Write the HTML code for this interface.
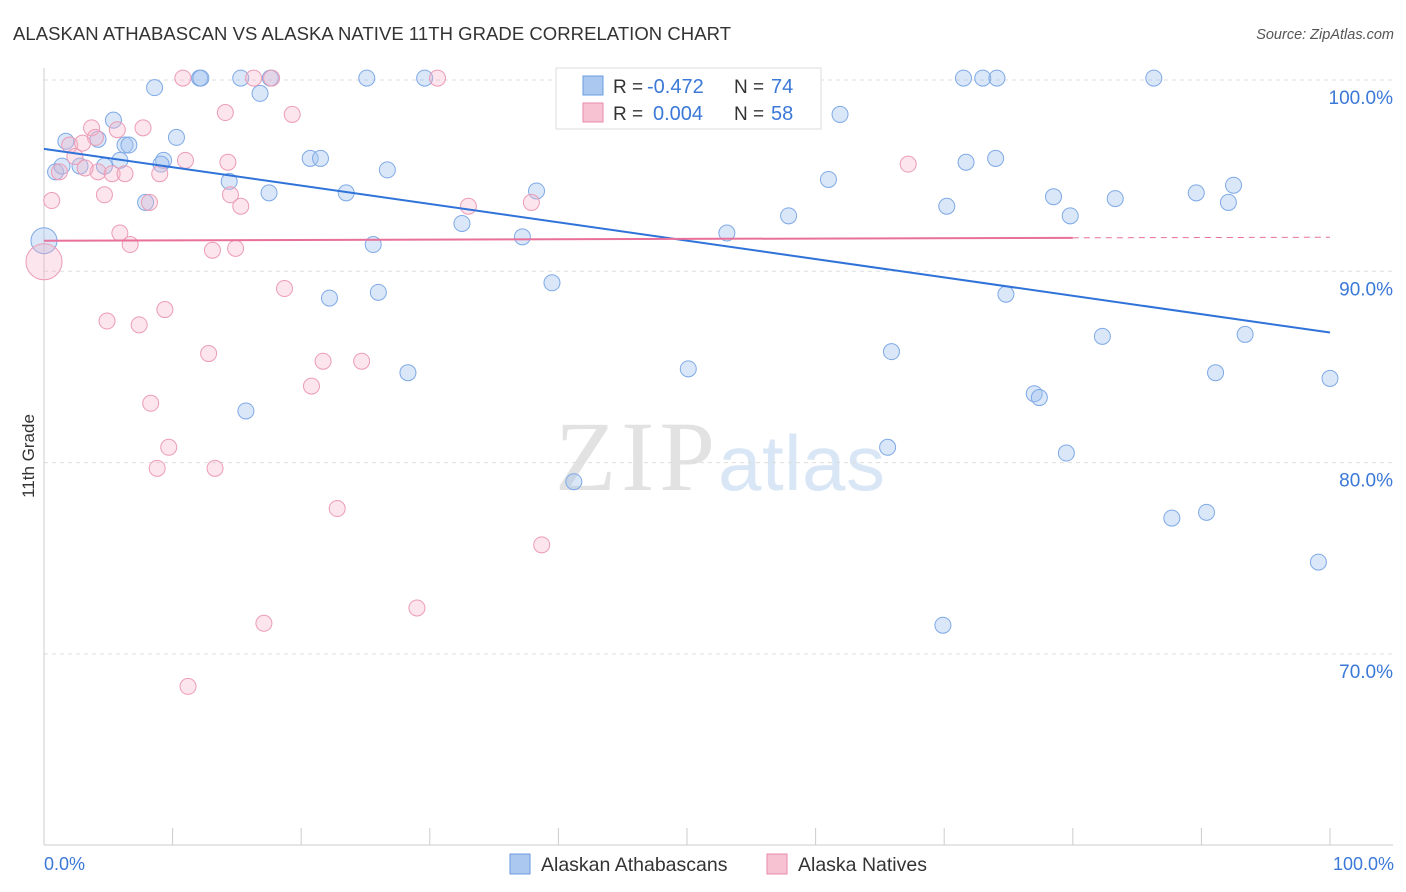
<!DOCTYPE html>
<html><head><meta charset="utf-8"><style>
body{margin:0;background:#fff;font-family:"Liberation Sans",sans-serif}
svg{display:block}
</style></head><body>
<svg id="chart" width="1406" height="892">
<text x="13" y="40" font-size="18.5" fill="#333" textLength="718">ALASKAN ATHABASCAN VS ALASKA NATIVE 11TH GRADE CORRELATION CHART</text>
<text x="1394" y="39" font-size="14.5" fill="#555" font-style="italic" text-anchor="end">Source: ZipAtlas.com</text>
<text x="555" y="490" font-size="100" fill="#e2e2e2" textLength="160" font-family="Liberation Serif,serif">ZIP</text>
<text x="718" y="490" font-size="78" fill="#d9e6f6" textLength="167">atlas</text>
<g id="grid"></g><g id="axes"></g><g id="marks"></g>
<text transform="translate(34,456) rotate(-90)" font-size="17" fill="#333" text-anchor="middle">11th Grade</text>
<text x="44" y="870" font-size="18" fill="#3b78d8">0.0%</text>
<text x="1394" y="870" font-size="18" fill="#3b78d8" text-anchor="end">100.0%</text>
<g>
<rect x="556" y="68" width="265" height="61" fill="#fff" stroke="#ddd"/>
<rect x="583" y="76" width="20" height="19" fill="#aac8f0" stroke="#6a9de0"/>
<rect x="583" y="103" width="20" height="19" fill="#f7c3d3" stroke="#e88aa8"/>
<text x="613" y="93" font-size="19" fill="#333">R =</text>
<text x="647" y="93" font-size="20" fill="#3b78d8">-0.472</text>
<text x="734" y="93" font-size="19" fill="#333">N =</text>
<text x="771" y="93" font-size="20" fill="#3b78d8">74</text>
<text x="613" y="120" font-size="19" fill="#333">R =</text>
<text x="653" y="120" font-size="20" fill="#3b78d8">0.004</text>
<text x="734" y="120" font-size="19" fill="#333">N =</text>
<text x="771" y="120" font-size="20" fill="#3b78d8">58</text>
</g>
<g>
<rect x="510" y="854" width="20" height="20" fill="#aac8f0" stroke="#6a9de0"/>
<text x="541" y="871" font-size="19.5" fill="#333">Alaskan Athabascans</text>
<rect x="767" y="854" width="20" height="20" fill="#f7c3d3" stroke="#e88aa8"/>
<text x="798" y="871" font-size="19.5" fill="#333">Alaska Natives</text>
</g>
</svg>
<script>
const yTicks=[100,90,80,70];
const xTicks=[0,10,20,30,40,50,60,70,80,90,100];
const bluePx=[[155,87],[200,79],[201,79],[241,79],[270,79],[367,79],[425,79],[963,79],[983,79],[997,79],[1154,79],[260,93],[113,121],[177,137],[66,141],[98,139],[125,145],[129,145],[840,114],[163,160],[120,160],[310,159],[321,158],[55,171],[62,167],[80,167],[104,167],[161,165],[388,169],[966,162],[995,158],[229,181],[269,193],[346,193],[536,190],[828,179],[1196,192],[1233,185],[145,203],[947,207],[1054,196],[1115,199],[1228,203],[462,224],[523,236],[727,233],[789,216],[1070,216],[373,244],[552,283],[330,299],[379,292],[1006,294],[1102,337],[1245,334],[892,352],[688,368],[408,373],[1215,373],[1330,378],[1034,394],[1040,398],[246,411],[887,448],[1066,453],[574,482],[1172,519],[1206,513],[1319,562],[943,625]];
const pinkPx=[[183,79],[254,79],[272,79],[437,79],[577,79],[620,79],[637,79],[225,113],[292,114],[91,128],[117,130],[143,128],[70,145],[95,138],[82,143],[75,156],[98,172],[185,160],[228,162],[60,172],[85,168],[112,173],[125,173],[160,174],[52,201],[104,195],[150,203],[231,195],[241,206],[468,207],[531,202],[908,164],[120,233],[130,244],[212,251],[236,248],[285,288],[165,309],[107,321],[139,324],[209,354],[323,362],[361,362],[311,386],[151,404],[169,448],[157,469],[215,469],[337,509],[542,545],[417,608],[264,624],[188,687]];
const toX=p=>+((p-44)/12.86).toFixed(1), toY=p=>+(100-(p-80)/19.13).toFixed(1);
const blueX=bluePx.map(d=>toX(d[0])), blueY=bluePx.map(d=>toY(d[1]));
const pinkX=pinkPx.map(d=>toX(d[0])), pinkY=pinkPx.map(d=>toY(d[1]));
const bigBlue=[0,91.6], bigPink=[0,90.5];
const blueTrend=[96.4,86.8], pinkTrend=[91.6,91.75,91.78];
const sx=v=>44+v*12.86, sy=v=>80+(100-v)*19.13;
const NS="http://www.w3.org/2000/svg";
function mk(t,a,parent){const e=document.createElementNS(NS,t);for(const k in a)e.setAttribute(k,a[k]);document.getElementById(parent).appendChild(e);return e;}
yTicks.forEach(v=>{
 const l=mk('line',{x1:44,x2:1393,y1:sy(v),y2:sy(v),stroke:'#ddd','stroke-dasharray':'4,4'},'grid');
 
 
 const t=mk('text',{x:1393,y:sy(v)+24,'font-size':19,fill:'#3b78d8','text-anchor':'end'},'grid');
 t.textContent=v.toFixed(1)+'%';
 
 
});
const ax=mk('line',{x1:44,x2:44,y1:68,y2:845,stroke:'#ccc'},'axes');


const bx=mk('line',{x1:44,x2:1393,y1:845,y2:845,stroke:'#ccc'},'axes');


xTicks.forEach(v=>{const t=mk('line',{x1:sx(v),x2:sx(v),y1:828,y2:845,stroke:'#ccc'},'axes');
 
 });
function dot(x,y,r,cls){const c=mk('circle',{cx:sx(x),cy:sy(y),r:r,fill:cls=='b'?'rgba(160,195,240,0.4)':'rgba(245,180,200,0.35)',stroke:cls=='b'?'#7fa9e6':'#ec9cb6','stroke-width':1},'marks');return c;}
blueX.forEach((x,i)=>{const c=dot(x,blueY[i],8,'b');
 
 });
pinkX.forEach((x,i)=>{const c=dot(x,pinkY[i],8,'p');
 
 });
let c1=dot(bigBlue[0],bigBlue[1],13,'b');


let c2=dot(bigPink[0],bigPink[1],18,'p');


const bl=mk('line',{x1:sx(0),y1:sy(blueTrend[0]),x2:sx(100),y2:sy(blueTrend[1]),stroke:'#2f72d8','stroke-width':2},'marks');


const pl=mk('line',{x1:sx(0),y1:sy(pinkTrend[0]),x2:sx(80),y2:sy(pinkTrend[1]),stroke:'#e8709a','stroke-width':2},'marks');


const pd=mk('line',{x1:sx(80),y1:sy(pinkTrend[1]),x2:sx(100),y2:sy(pinkTrend[2]),stroke:'#e8709a','stroke-width':1,'stroke-dasharray':'6,5'},'marks');


</script>
</body></html>
